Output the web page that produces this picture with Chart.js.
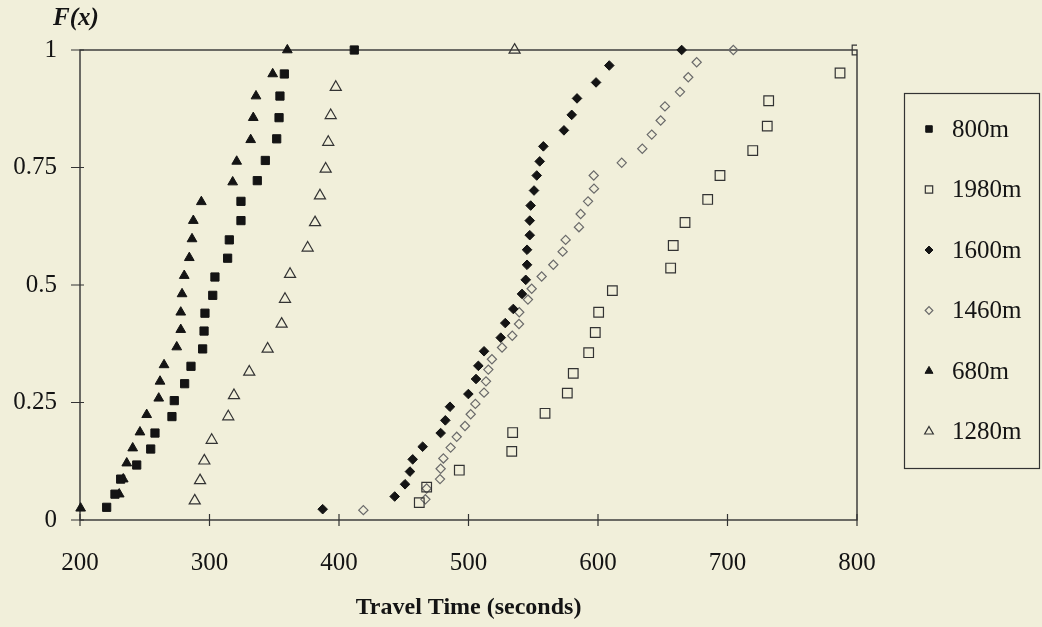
<!DOCTYPE html>
<html>
<head>
<meta charset="utf-8">
<script src="https://cdn.jsdelivr.net/npm/chart.js@4/dist/chart.umd.min.js"></script>
<style>
  html, body { margin: 0; padding: 0; background: #f1efda; }
  #wrap { width: 1042px; height: 627px; position: relative; }
</style>
</head>
<body>
<div id="wrap"><canvas id="c" width="1042" height="627"></canvas></div>
<script>
// ---- data ----
const seriesNames = ['800m', '1980m', '1600m', '1460m', '680m', '1280m'];

const t800  = [220.6, 227, 231.4, 243.8, 254.6, 257.9, 271, 272.8, 280.8, 285.7, 294.7, 295.8, 296.5, 302.5, 304.2, 314, 315.3, 324.3, 324.3, 336.9, 343.1, 351.9, 353.7, 354.4, 357.8, 411.8];
const f800  = [0.027, 0.055, 0.087, 0.117, 0.151, 0.185, 0.220, 0.254, 0.290, 0.327, 0.364, 0.402, 0.440, 0.478, 0.517, 0.557, 0.596, 0.637, 0.678, 0.722, 0.765, 0.811, 0.856, 0.902, 0.949, 1.0];

const t1980 = [462, 467.7, 492.9, 533.4, 534.1, 559.1, 576.3, 580.9, 592.8, 597.9, 600.5, 611.1, 656.1, 658.1, 667.2, 684.7, 694.2, 719.5, 730.7, 731.8, 786.9, 800];
const f1980 = [0.037, 0.070, 0.106, 0.146, 0.186, 0.227, 0.270, 0.312, 0.356, 0.399, 0.442, 0.488, 0.536, 0.584, 0.633, 0.682, 0.733, 0.786, 0.838, 0.892, 0.951, 1.0];

const t1600 = [387.4, 443, 451, 454.8, 456.9, 464.6, 478.5, 482.1, 485.7, 499.9, 505.8, 507.6, 512, 524.9, 528.4, 534.6, 541.3, 544.2, 545.2, 545.2, 547.3, 547.3, 548, 550.6, 552.7, 555, 557.8, 573.7, 579.7, 583.8, 598.5, 608.7, 664.6];
const f1600 = [0.023, 0.050, 0.076, 0.103, 0.129, 0.156, 0.185, 0.212, 0.241, 0.268, 0.300, 0.328, 0.359, 0.388, 0.419, 0.449, 0.481, 0.511, 0.543, 0.575, 0.606, 0.637, 0.669, 0.701, 0.733, 0.763, 0.795, 0.829, 0.862, 0.897, 0.931, 0.967, 1.0];

const t1460 = [418.8, 466.7, 467.7, 478, 478.5, 480.6, 486.2, 490.9, 497.3, 501.7, 505.3, 512, 513.5, 515.3, 518.1, 525.9, 533.8, 539, 539.2, 545.9, 548.8, 556.5, 565.5, 572.7, 575, 585.3, 586.6, 592.3, 596.9, 596.7, 618.3, 634.2, 641.5, 648.4, 651.7, 663.3, 669.7, 676.2, 704.5];
const f1460 = [0.021, 0.044, 0.067, 0.087, 0.109, 0.131, 0.154, 0.177, 0.200, 0.225, 0.247, 0.271, 0.295, 0.320, 0.342, 0.367, 0.392, 0.417, 0.442, 0.469, 0.492, 0.518, 0.543, 0.571, 0.596, 0.623, 0.651, 0.678, 0.705, 0.733, 0.760, 0.790, 0.820, 0.850, 0.880, 0.911, 0.942, 0.974, 1.0];

const t680  = [200.5, 230.3, 233.4, 236.1, 240.7, 246.3, 251.5, 260.8, 261.8, 264.9, 274.7, 277.8, 277.8, 278.8, 280.5, 284.4, 286.5, 287.5, 293.7, 317.9, 321, 331.8, 333.8, 335.9, 348.8, 360.1];
const f680  = [0.025, 0.055, 0.087, 0.121, 0.153, 0.187, 0.224, 0.259, 0.295, 0.330, 0.368, 0.405, 0.442, 0.481, 0.520, 0.558, 0.598, 0.637, 0.677, 0.719, 0.763, 0.809, 0.856, 0.902, 0.949, 1.0];

const t1280 = [288.6, 292.7, 296, 301.7, 314.5, 318.9, 330.7, 344.9, 355.7, 358.3, 362.2, 375.8, 381.5, 385.3, 389.7, 391.7, 393.6, 397.5, 535.6];
const f1280 = [0.041, 0.084, 0.126, 0.170, 0.220, 0.265, 0.315, 0.364, 0.417, 0.470, 0.523, 0.579, 0.633, 0.690, 0.747, 0.804, 0.861, 0.921, 1.0];

const xTicks = [200, 300, 400, 500, 600, 700, 800];
const yTicks = [0, 0.25, 0.5, 0.75, 1];
const yTickLabels = ['0', '0.25', '0.5', '0.75', '1'];
const xTitle = 'Travel Time (seconds)';
const yTitle = 'F(x)';

// ---- styling ----
const BG = '#f1efda';
const INK = '#141414';
const FONT = "'Liberation Serif', 'Times New Roman', serif";

function pts(xs, ys) { return xs.map((x, i) => ({ x: x, y: ys[i] })); }

const styles = [
  { pointStyle: 'rect',     radius: 5.8, bg: INK, border: INK, bw: 1, legR: 4.6 },
  { pointStyle: 'rect',     radius: 6.8, bg: 'rgba(0,0,0,0)', border: '#333333', bw: 1.2, legR: 5.2 },
  { pointStyle: 'rectRot',  radius: 4.8, bg: INK, border: INK, bw: 1, legR: 4.0 },
  { pointStyle: 'rectRot',  radius: 4.6, bg: 'rgba(0,0,0,0)', border: '#6a6a6a', bw: 1.2, legR: 3.8 },
  { pointStyle: 'triangle', radius: 5.6, bg: INK, border: INK, bw: 1, legR: 4.6 },
  { pointStyle: 'triangle', radius: 6.4, bg: 'rgba(0,0,0,0)', border: '#333333', bw: 1.2, legR: 5.0 }
];
const dataPairs = [[t800, f800], [t1980, f1980], [t1600, f1600], [t1460, f1460], [t680, f680], [t1280, f1280]];

const datasets = seriesNames.map((name, i) => ({
  label: name,
  data: pts(dataPairs[i][0], dataPairs[i][1]),
  pointStyle: styles[i].pointStyle,
  pointRadius: styles[i].radius,
  pointHoverRadius: styles[i].radius,
  pointBackgroundColor: styles[i].bg,
  pointBorderColor: styles[i].border,
  pointBorderWidth: styles[i].bw,
  showLine: false,
  clip: { left: false, top: false, right: 0, bottom: false }
}));

const bgPlugin = {
  id: 'bg',
  beforeDraw(chart) {
    const ctx = chart.ctx;
    ctx.save();
    ctx.fillStyle = BG;
    ctx.fillRect(0, 0, chart.width, chart.height);
    ctx.restore();
  }
};

const framePlugin = {
  id: 'frame',
  beforeDatasetsDraw(chart) {
    const { ctx, chartArea: a } = chart;
    const xs = chart.scales.x, ys = chart.scales.y;
    ctx.save();
    ctx.strokeStyle = '#333333';
    ctx.lineWidth = 1.4;
    ctx.strokeRect(a.left, a.top, a.right - a.left, a.bottom - a.top);
    ctx.lineWidth = 1.2;
    ctx.beginPath();
    xTicks.forEach(v => {
      const px = xs.getPixelForValue(v);
      ctx.moveTo(px, a.bottom - 6);
      ctx.lineTo(px, a.bottom + 6);
    });
    yTicks.forEach(v => {
      const py = ys.getPixelForValue(v);
      ctx.moveTo(a.left - 9, py);
      ctx.lineTo(a.left + 4, py);
    });
    ctx.stroke();
    // y title
    ctx.fillStyle = INK;
    ctx.font = "italic bold 25px " + FONT;
    ctx.textAlign = 'left';
    ctx.textBaseline = 'middle';
    ctx.fillText(yTitle, 53, 19);
    ctx.restore();
  }
};

const legendPlugin = {
  id: 'boxLegend',
  afterDraw(chart) {
    const ctx = chart.ctx;
    ctx.save();
    ctx.strokeStyle = '#333333';
    ctx.lineWidth = 1.2;
    ctx.strokeRect(904.5, 93.5, 135, 375);
    ctx.font = "25px " + FONT;
    ctx.textAlign = 'left';
    ctx.textBaseline = 'middle';
    chart.data.datasets.forEach((ds, i) => {
      const y = 129 + i * 60.5;
      ctx.fillStyle = styles[i].bg;
      ctx.strokeStyle = styles[i].border;
      ctx.lineWidth = styles[i].bw;
      Chart.helpers.drawPoint(ctx, { pointStyle: styles[i].pointStyle, radius: styles[i].legR, borderWidth: styles[i].bw, rotation: 0 }, 929, y);
      ctx.fillStyle = INK;
      ctx.fillText(ds.label, 952, y + 1);
    });
    ctx.restore();
  }
};

new Chart(document.getElementById('c'), {
  type: 'scatter',
  data: { datasets: datasets },
  plugins: [bgPlugin, framePlugin, legendPlugin],
  options: {
    responsive: false,
    animation: false,
    events: [],
    layout: { padding: { left: 0, right: 185, top: 50, bottom: 0 } },
    plugins: {
      legend: { display: false },
      tooltip: { enabled: false },
      title: { display: false }
    },
    scales: {
      x: {
        type: 'linear',
        min: 200, max: 800,
        afterFit(s) { s.height = 107; },
        afterBuildTicks(s) { s.ticks = xTicks.map(v => ({ value: v })); },
        grid: { display: false, drawTicks: true, tickLength: 8 },
        border: { display: false },
        ticks: {
          color: INK,
          font: { family: FONT, size: 25 },
          padding: 20,
          maxRotation: 0,
          callback: v => String(v)
        },
        title: {
          display: true,
          text: xTitle,
          color: INK,
          font: { family: FONT, size: 24, weight: 'bold' },
          padding: { top: 0, bottom: 5 }
        }
      },
      y: {
        type: 'linear',
        min: 0, max: 1,
        afterFit(s) { s.width = 80; },
        afterBuildTicks(s) { s.ticks = yTicks.map(v => ({ value: v })); },
        grid: { display: false, drawTicks: true, tickLength: 8 },
        border: { display: false },
        ticks: {
          color: INK,
          font: { family: FONT, size: 25 },
          padding: 15,
          callback: (v) => { const k = yTicks.indexOf(v); return k >= 0 ? yTickLabels[k] : ''; }
        }
      }
    }
  }
});
</script>
</body>
</html>
